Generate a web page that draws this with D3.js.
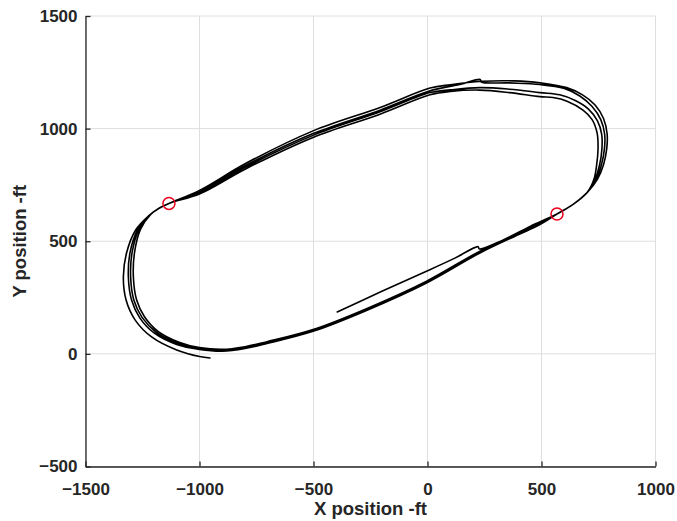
<!DOCTYPE html>
<html>
<head>
<meta charset="utf-8">
<script src="https://cdn.jsdelivr.net/npm/d3@7"></script>
<style>
  html, body { margin: 0; padding: 0; background: #fff; }
  svg { display: block; }
  text { font-family: "Liberation Sans", Arial, Helvetica, sans-serif; }
</style>
</head>
<body>
<svg id="chart" width="677" height="521"></svg>
<script>
// ---- data (feet) ----
const xTicks = [-1500, -1000, -500, 0, 500, 1000];
const yTicks = [-500, 0, 500, 1000, 1500];
const xLabel = "X position -ft";
const yLabel = "Y position -ft";

// lap markers (red circles)
const markersX = [-1134, 568];
const markersY = [668, 621];

// start segment (lower straight, offset line with notch)
const segStart = [[-396,186],[-200,278],[-2,368],[120,425],[222,476],[227,466],[330,505],[450,566],[568,621]];

// right-end turns
const turnRightB = [[640,665],[700,716],[740,775],[763,840],[776,910],[777,975],[760,1040],[722,1098],[668,1145],[600,1178],[493,1196]];
const turnRightA = [[640,665],[700,716],[745,775],[772,840],[786,910],[788,975],[772,1045],[735,1105],[680,1150],[610,1182],[493,1204]];
const turnRightC = [[640,665],[700,716],[735,775],[755,840],[765,910],[764,975],[745,1035],[705,1088],[648,1125],[580,1150],[493,1160]];
const turnRightD = [[640,665],[700,716],[730,775],[742,840],[748,910],[744,980],[722,1040],[682,1082],[612,1122],[550,1138],[493,1142]];

// upper straights (travelling left)
const topB = [[360,1203],[236,1207],[231,1218],[150,1198],[11,1168],[-208,1082],[-502,978],[-800,835],[-998,720],[-1134,668]];
const topA = [[380,1212],[240,1210],[100,1195],[11,1180],[-208,1094],[-502,990],[-800,844],[-998,727],[-1134,668]];
const topC = [[360,1175],[230,1182],[100,1172],[11,1160],[-208,1075],[-502,970],[-800,828],[-998,715],[-1134,668]];
const topD = [[360,1160],[230,1171],[100,1165],[11,1150],[-208,1064],[-502,961],[-800,820],[-998,711],[-1134,668]];

// left-end turns
const turnLeftB = [[-1178,646],[-1222,614],[-1272,550],[-1305,448],[-1312,341],[-1298,239],[-1262,160],[-1198,92],[-1100,42],[-1000,20]];
const turnLeftC = [[-1177,647],[-1219,616],[-1266,552],[-1296,448],[-1302,341],[-1288,239],[-1252,162],[-1190,96],[-1095,46],[-1000,24]];
const turnLeftD = [[-1176,648],[-1215,618],[-1258,555],[-1285,450],[-1290,341],[-1276,240],[-1242,166],[-1182,100],[-1090,52],[-1000,28]];
const turnLeftA = [[-1179,645],[-1224,612],[-1280,550],[-1320,448],[-1334,341],[-1322,239],[-1282,150],[-1210,75],[-1100,17],[-1000,-12],[-954,-18]];

// lower straights (travelling right)
const bottomA = [[-900,12],[-800,24],[-704,46],[-502,100],[-265,194],[-2,316],[230,448],[400,530],[493,574],[568,621]];
const bottomB = [[-900,16],[-800,28],[-704,50],[-502,104],[-265,198],[-2,320],[230,452],[400,533],[493,577],[568,621]];
const bottomC = [[-900,20],[-800,32],[-704,54],[-502,108],[-265,202],[-2,324],[230,456],[400,536],[493,580],[568,621]];

const track = [].concat(
  segStart,
  turnRightB, topB, turnLeftB, bottomA,
  turnRightA, topA, turnLeftC, bottomB,
  turnRightC, topC, turnLeftD, bottomC,
  turnRightD, topD, turnLeftA
);

// ---- layout ----
const svg = d3.select("#chart");
const L = 85.5, R = 655.5, T = 16, B = 466.5;
const x = d3.scaleLinear().domain([-1500, 1000]).range([L, R]);
const y = d3.scaleLinear().domain([-500, 1500]).range([B, T]);

// grid
const grid = svg.append("g").attr("stroke", "#dedede").attr("stroke-width", 1).attr("fill", "none");
grid.selectAll("line.gx").data(xTicks).join("line")
  .attr("x1", d => x(d)).attr("x2", d => x(d)).attr("y1", T).attr("y2", B);
grid.selectAll("line.gy").data(yTicks).join("line")
  .attr("x1", L).attr("x2", R).attr("y1", d => y(d)).attr("y2", d => y(d));

// track
const line = d3.line().x(d => x(d[0])).y(d => y(d[1])).curve(d3.curveCatmullRom.alpha(0.5));
svg.append("path").datum(track)
  .attr("d", line).attr("fill", "none").attr("stroke", "#000")
  .attr("stroke-width", 1.6).attr("stroke-linejoin", "round").attr("stroke-linecap", "round");

// markers
svg.selectAll("circle.m").data(markersX).join("circle")
  .attr("cx", d => x(d)).attr("cy", (d, i) => y(markersY[i])).attr("r", 6)
  .attr("fill", "none").attr("stroke", "#e8001c").attr("stroke-width", 1.5);

// axes
const xAxis = d3.axisBottom(x).tickValues(xTicks).tickSizeInner(-5).tickSizeOuter(0).tickPadding(16).tickFormat(d3.format("d"));
const yAxis = d3.axisLeft(y).tickValues(yTicks).tickSizeInner(-5).tickSizeOuter(0).tickPadding(8).tickFormat(d3.format("d"));

const gx = svg.append("g").attr("transform", `translate(0,${B})`).call(xAxis);
const gy = svg.append("g").attr("transform", `translate(${L},0)`).call(yAxis);
[gx, gy].forEach(g => {
  g.select(".domain").attr("stroke", "#262626").attr("stroke-width", 1.3);
  g.selectAll(".tick line").attr("stroke", "#262626").attr("stroke-width", 1.3);
  g.selectAll(".tick text").attr("fill", "#262626").attr("font-size", 17).attr("font-weight", "bold")
    .attr("font-family", "'Liberation Sans', Arial, Helvetica, sans-serif");
});
gx.selectAll(".tick text").attr("dy", "0.32em").attr("y", 0).attr("transform", "translate(0,23)");

// axis titles
svg.append("text").attr("x", (L + R) / 2).attr("y", 515).attr("text-anchor", "middle")
  .attr("font-size", 18.5).attr("font-weight", "bold").attr("fill", "#262626").text(xLabel);
svg.append("text").attr("transform", `translate(26,${(T + B) / 2}) rotate(-90)`).attr("text-anchor", "middle")
  .attr("font-size", 18.5).attr("font-weight", "bold").attr("fill", "#262626").text(yLabel);
</script>
</body>
</html>
